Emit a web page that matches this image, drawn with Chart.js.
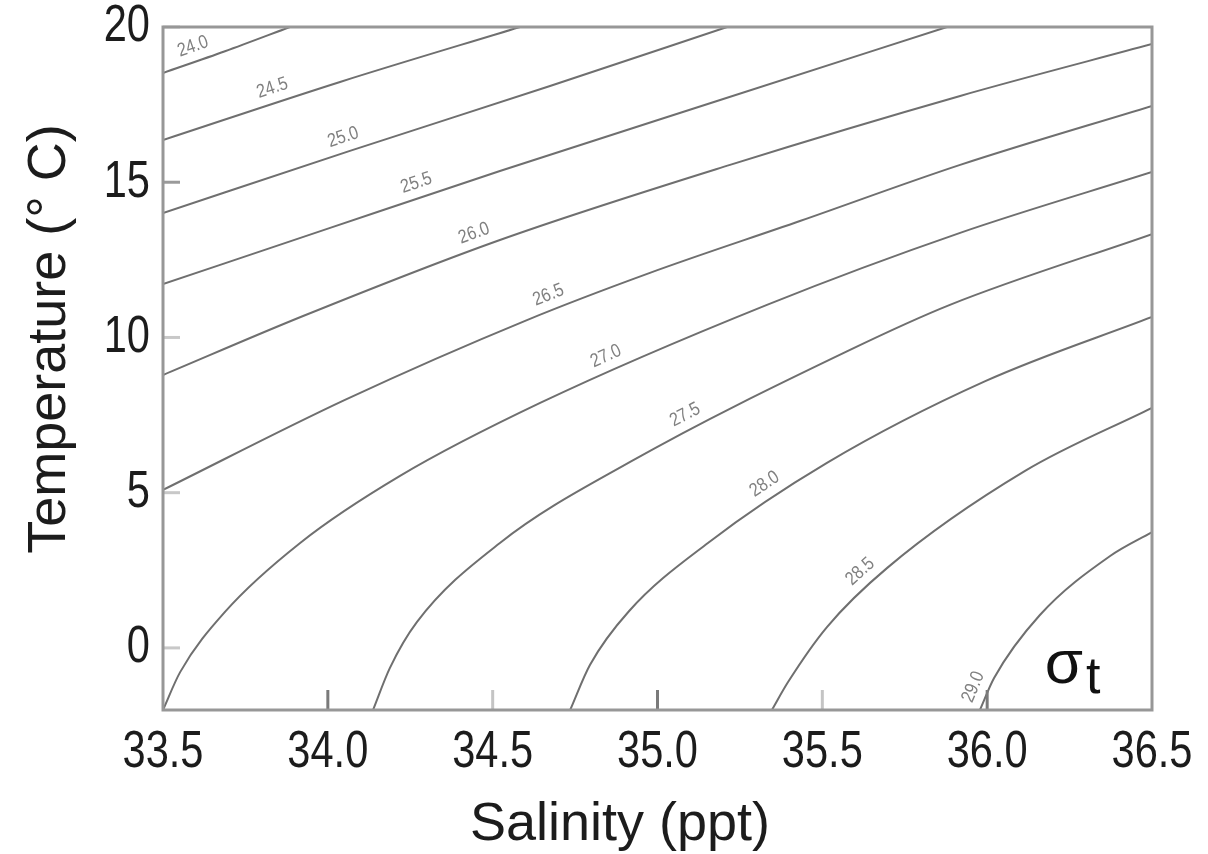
<!DOCTYPE html>
<html>
<head>
<meta charset="utf-8">
<script src="https://cdn.jsdelivr.net/npm/chart.js@4.4.1/dist/chart.umd.min.js"></script>
<style>
html,body{margin:0;padding:0;background:#fff}
#wrap{width:1208px;height:854px}
</style>
</head>
<body>
<div id="wrap"><canvas id="myChart" width="1208" height="854"></canvas></div>
<script>
// sigma-t contour levels
const sigmaLevels = ['24.0','24.5','25.0','25.5','26.0','26.5','27.0','27.5','28.0','28.5','29.0']

// salinity (ppt) / temperature (°C) points
const sal240 = [33.5, 33.688, 33.885]
const tem240 = [18.52, 19.22, 20.0]
const sal245 = [33.5, 34.037, 34.583]
const tem245 = [16.36, 18.23, 20.0]
const sal250 = [33.5, 34.067, 34.674, 35.211]
const tem250 = [14.01, 16.01, 18.1, 20.0]
const sal255 = [33.5, 34.007, 34.522, 35.19, 35.878]
const tem255 = [11.72, 13.53, 15.36, 17.65, 20.0]
const sal260 = [33.5, 33.925, 34.522, 35.22, 35.918, 36.5]
const tem260 = [8.79, 10.69, 13.14, 15.56, 17.78, 19.45]
const sal265 = [33.5, 34.052, 34.604, 34.977, 35.432, 35.918, 36.5]
const tem265 = [5.09, 7.99, 10.56, 12.08, 13.75, 15.56, 17.46]
const sal270 = [33.5, 33.552, 33.688, 33.916, 34.219, 34.644, 35.332, 35.918, 36.5]
const tem270 = [-2.0, -0.78, 1.16, 3.38, 5.54, 7.89, 11.05, 13.37, 15.33]
const sal275 = [34.137, 34.188, 34.27, 34.522, 34.917, 35.584, 35.887, 36.5]
const tem275 = [-2.0, -0.65, 0.83, 3.38, 5.99, 9.6, 11.05, 13.33]
const sal280 = [34.735, 34.795, 34.914, 35.153, 35.514, 35.996, 36.5]
const tem280 = [-2.0, -0.55, 1.19, 3.38, 5.96, 8.6, 10.66]
const sal285 = [35.347, 35.396, 35.514, 35.696, 36.115, 36.5]
const tem285 = [-2.0, -1.1, 0.67, 2.57, 5.7, 7.73]
const sal290 = [35.978, 36.021, 36.16, 36.373, 36.5]
const tem290 = [-2.0, -0.97, 1.06, 2.96, 3.73]

// salinity at which each contour carries its label
const labelSal = [33.606, 33.846, 34.061, 34.283, 34.459, 34.686, 34.862, 35.105, 35.35, 35.645, 36.0]

const xTicks = [33.5, 34.0, 34.5, 35.0, 35.5, 36.0, 36.5]
const yTicks = [0, 5, 10, 15, 20]

const salLines = [sal240, sal245, sal250, sal255, sal260, sal265, sal270, sal275, sal280, sal285, sal290]
const temLines = [tem240, tem245, tem250, tem255, tem260, tem265, tem270, tem275, tem280, tem285, tem290]

const sans = "'Liberation Sans', Arial, sans-serif"

const datasets = sigmaLevels.map((lev, i) => ({
    label: lev,
    data: salLines[i].map((s, k) => ({x: s, y: temLines[i][k]})),
    showLine: true,
    borderColor: '#6f6f6f',
    borderWidth: 2,
    pointRadius: 0,
    cubicInterpolationMode: 'monotone',
    fill: false
}))

// text squeezed sideways a little, like the original lettering
const squeeze = (ctx, text, x, y, sx, align) => {
    ctx.save()
    ctx.translate(x, y)
    ctx.scale(sx, 1)
    ctx.textAlign = align
    ctx.fillText(text, 0, 0)
    ctx.restore()
}

const bez = (a, b, c, d, t) => {
    const u = 1 - t
    return u*u*u*a + 3*u*u*t*b + 3*u*t*t*c + t*t*t*d
}

// point and direction on the drawn curve at pixel x
const onCurve = (pts, px) => {
    let k = 0
    while (k < pts.length - 2 && pts[k + 1].x < px) k++
    const p0 = pts[k], p1 = pts[k + 1]
    const c1x = p0.cp2x ?? p0.x, c1y = p0.cp2y ?? p0.y
    const c2x = p1.cp1x ?? p1.x, c2y = p1.cp1y ?? p1.y
    let lo = 0, hi = 1
    for (let n = 0; n < 40; n++) {
        const mid = (lo + hi) / 2
        if (bez(p0.x, c1x, c2x, p1.x, mid) < px) lo = mid; else hi = mid
    }
    const t = (lo + hi) / 2
    const t2 = Math.min(1, t + 0.01), t1 = Math.max(0, t - 0.01)
    return {
        x: bez(p0.x, c1x, c2x, p1.x, t),
        y: bez(p0.y, c1y, c2y, p1.y, t),
        ang: Math.atan2(bez(p0.y, c1y, c2y, p1.y, t2) - bez(p0.y, c1y, c2y, p1.y, t1),
                        bez(p0.x, c1x, c2x, p1.x, t2) - bez(p0.x, c1x, c2x, p1.x, t1))
    }
}

const extras = {
    id: 'extras',
    afterDatasetsDraw(chart){
        const ctx = chart.ctx
        const a = chart.chartArea
        const x = chart.scales.x
        const y = chart.scales.y

        // inner tick marks
        ctx.save()
        ctx.lineWidth = 3
        yTicks.forEach(v => {
            const py = y.getPixelForValue(v)
            ctx.strokeStyle = v === 15 ? '#9a9a9a' : '#c8c8c8'
            ctx.beginPath(); ctx.moveTo(a.left, py); ctx.lineTo(a.left + 17, py); ctx.stroke()
        })
        xTicks.slice(1, -1).forEach(v => {
            const px = x.getPixelForValue(v)
            ctx.strokeStyle = (v % 1 === 0) ? '#7a7a7a' : '#c4c4c4'
            ctx.beginPath(); ctx.moveTo(px, a.bottom); ctx.lineTo(px, a.bottom - 20); ctx.stroke()
        })

        // frame
        ctx.strokeStyle = '#979797'
        ctx.lineWidth = 3
        ctx.strokeRect(a.left, a.top, a.right - a.left, a.bottom - a.top)
        ctx.restore()

        // contour labels along the lines
        chart.data.datasets.forEach((ds, i) => {
            const pts = chart.getDatasetMeta(i).data
            const p = onCurve(pts, x.getPixelForValue(labelSal[i]))
            const off = 15
            ctx.save()
            ctx.translate(p.x + Math.sin(p.ang) * off, p.y - Math.cos(p.ang) * off)
            ctx.rotate(p.ang)
            ctx.font = "19px " + sans
            ctx.fillStyle = '#808080'
            ctx.textBaseline = 'middle'
            squeeze(ctx, ds.label, 0, 0, 0.85, 'center')
            ctx.restore()
        })

        // tick labels
        ctx.save()
        ctx.fillStyle = '#1c1c1c'
        ctx.font = "52px " + sans
        ctx.textBaseline = 'alphabetic'
        xTicks.forEach(v => squeeze(ctx, v.toFixed(1), x.getPixelForValue(v), a.bottom + 57, 0.8, 'center'))
        ctx.textBaseline = 'middle'
        yTicks.forEach(v => squeeze(ctx, String(v), a.left - 13, y.getPixelForValue(v), 0.8, 'right'))

        // axis titles
        ctx.font = "54px " + sans
        ctx.textBaseline = 'alphabetic'
        squeeze(ctx, 'Salinity (ppt)', 620, 840, 1, 'center')
        ctx.translate(65, 339)
        ctx.rotate(-Math.PI / 2)
        ctx.textAlign = 'center'
        ctx.fillText('Temperature (° C)', 0, 0)
        ctx.restore()

        // sigma-t mark
        ctx.save()
        ctx.fillStyle = '#111'
        ctx.textBaseline = 'alphabetic'
        const sx = x.getPixelForValue(36.175)
        const sy = y.getPixelForValue(-1.13)
        ctx.font = "62px " + sans
        ctx.fillText('σ', sx, sy)
        const w = ctx.measureText('σ').width
        ctx.font = "52px " + sans
        ctx.fillText('t', sx + w + 3, sy + 10)
        ctx.restore()
    }
}

const config = {
    type: 'scatter',
    data: {datasets},
    options: {
        responsive: false,
        devicePixelRatio: 1,
        animation: false,
        layout: {padding: {left: 0, right: 56, top: 27, bottom: 0}},
        plugins: {legend: {display: false}, tooltip: {enabled: false}},
        scales: {
            x: {
                type: 'linear',
                min: 33.5,
                max: 36.5,
                afterBuildTicks: s => { s.ticks = xTicks.map(v => ({value: v})) },
                afterFit: s => { s.height = 144; s.paddingLeft = 0; s.paddingRight = 0 },
                grid: {display: false, drawTicks: false},
                border: {display: false},
                ticks: {display: false}
            },
            y: {
                type: 'linear',
                min: -2,
                max: 20,
                afterBuildTicks: s => { s.ticks = yTicks.map(v => ({value: v})) },
                afterFit: s => { s.width = 163; s.paddingTop = 0; s.paddingBottom = 0 },
                grid: {display: false, drawTicks: false},
                border: {display: false},
                ticks: {display: false}
            }
        }
    },
    plugins: [extras]
}

const myChart = new Chart(document.getElementById('myChart').getContext('2d'), config)
</script>
</body>
</html>
